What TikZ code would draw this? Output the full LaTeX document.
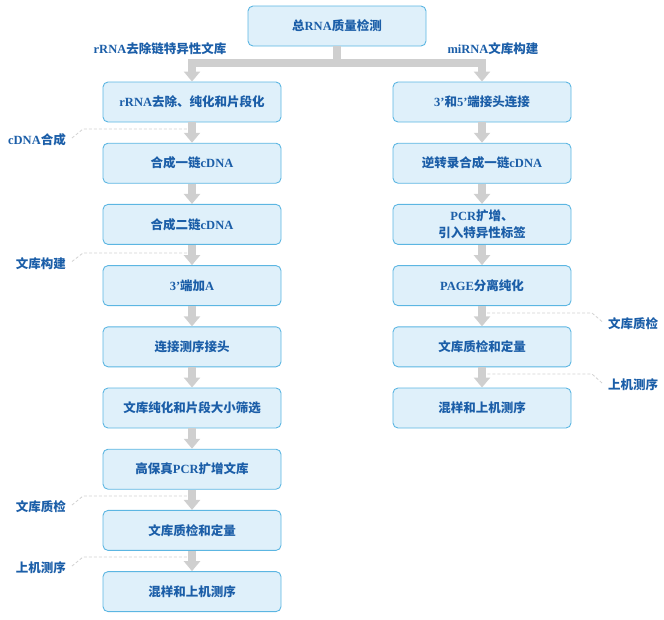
\documentclass[tikz,border=0pt]{standalone}
\usepackage{fontspec}
\setmainfont{Noto Sans CJK SC}
\newfontfamily\latfont{Liberation Serif}
\usetikzlibrary{arrows.meta}
\definecolor{boxfill}{HTML}{DFF0FA}
\definecolor{boxline}{HTML}{5CB6E2}
\definecolor{txt}{HTML}{1B5EA8}
\definecolor{arrgray}{HTML}{CFCFCF}
\definecolor{dashgray}{HTML}{D2D2D2}
\newcommand{\LT}[1]{{\latfont\bfseries #1}}
\tikzset{
  stepbox/.style={draw=boxline, fill=boxfill, rounded corners=5pt, minimum width=178pt,
    minimum height=40pt, line width=0.9pt, align=center, inner sep=0pt,
    font=\fontsize{12.5}{17}\selectfont\bfseries, text=txt},
  lab/.style={font=\fontsize{12.5}{15}\selectfont\bfseries, text=txt, inner sep=0pt},
  arr/.style={draw=arrgray, line width=7.5pt, -{Triangle[width=16pt,length=10pt]}},
  callout/.style={draw=dashgray, dash pattern=on 3pt off 2pt, line width=0.8pt}
}
\begin{document}
\begin{tikzpicture}[x=1pt,y=-1pt]
\useasboundingbox (0,0) rectangle (664,619);
% boxes
\node[stepbox] (top) at (337,26) {总\LT{RNA}质量检测};
\node[stepbox] (L0) at (192,102) {\LT{rRNA}去除、纯化和片段化};
\node[stepbox] (L1) at (192,163.2) {合成一链\LT{cDNA}};
\node[stepbox] (L2) at (192,224.4) {合成二链\LT{cDNA}};
\node[stepbox] (L3) at (192,285.6) {\LT{3’}端加\LT{A}};
\node[stepbox] (L4) at (192,346.8) {连接测序接头};
\node[stepbox] (L5) at (192,408) {文库纯化和片段大小筛选};
\node[stepbox] (L6) at (192,469.2) {高保真\LT{PCR}扩增文库};
\node[stepbox] (L7) at (192,530.4) {文库质检和定量};
\node[stepbox] (L8) at (192,591.6) {混样和上机测序};
\node[stepbox] (R0) at (482,102) {\LT{3’}和\LT{5’}端接头连接};
\node[stepbox] (R1) at (482,163.2) {逆转录合成一链\LT{cDNA}};
\node[stepbox] (R2) at (482,224.4) {\LT{PCR}扩增、\\引入特异性标签};
\node[stepbox] (R3) at (482,285.6) {\LT{PAGE}分离纯化};
\node[stepbox] (R4) at (482,346.8) {文库质检和定量};
\node[stepbox] (R5) at (482,408) {混样和上机测序};
% section labels
\node[lab] (s1) at (160,49) {\LT{rRNA}去除链特异性文库};
\node[lab] (s2) at (493,49) {\LT{miRNA}文库构建};
% side labels
\node[lab, anchor=east] (c1) at (66,140) {\LT{cDNA}合成};
\node[lab, anchor=east] (c2) at (66,263.5) {文库构建};
\node[lab, anchor=east] (c3) at (66,507) {文库质检};
\node[lab, anchor=east] (c4) at (66,568) {上机测序};
\node[lab, anchor=west] (c5) at (608,323.5) {文库质检};
\node[lab, anchor=west] (c6) at (608,385) {上机测序};
% callout dashed lines
\coordinate (c1a) at (83,129); \coordinate (c1b) at (190,129);
\coordinate (c2a) at (83,253); \coordinate (c2b) at (190,253);
\coordinate (c3a) at (83,496); \coordinate (c3b) at (190,496);
\coordinate (c4a) at (83,557); \coordinate (c4b) at (190,557);
\coordinate (c5a) at (592,313); \coordinate (c5b) at (484,313);
\coordinate (c6a) at (592,374); \coordinate (c6b) at (484,374);
\draw[callout] ([xshift=6pt,yshift=2pt]c1.east) -- (c1a) -- (c1b);
\draw[callout] ([xshift=6pt,yshift=2pt]c2.east) -- (c2a) -- (c2b);
\draw[callout] ([xshift=6pt,yshift=2pt]c3.east) -- (c3a) -- (c3b);
\draw[callout] ([xshift=6pt,yshift=2pt]c4.east) -- (c4a) -- (c4b);
\draw[callout] ([xshift=-6pt,yshift=2pt]c5.west) -- (c5a) -- (c5b);
\draw[callout] ([xshift=-6pt,yshift=2pt]c6.west) -- (c6a) -- (c6b);
% connectors
\coordinate (j) at (337,63);
\draw[arr] (top.south) -- (j) -| (L0.north);
\draw[arr] (top.south) -- (j) -| (R0.north);
\foreach \a/\b in {L0/L1,L1/L2,L2/L3,L3/L4,L4/L5,L5/L6,L6/L7,L7/L8,R0/R1,R1/R2,R2/R3,R3/R4,R4/R5}
  \draw[arr] (\a.south) -- (\b.north);
\end{tikzpicture}
\end{document}
